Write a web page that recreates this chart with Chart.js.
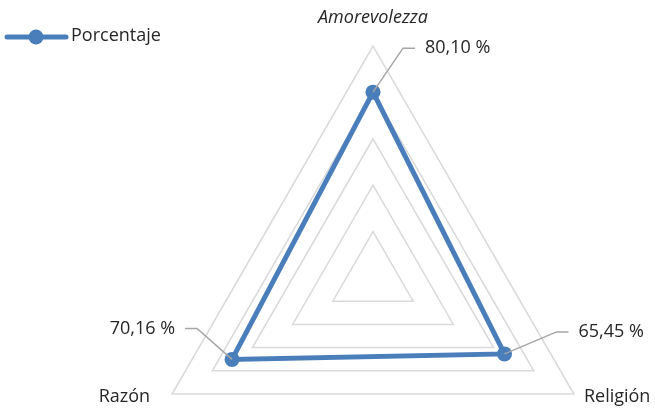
<!DOCTYPE html>
<html>
<head>
<meta charset="utf-8">
<script src="https://cdn.jsdelivr.net/npm/chart.js@4/dist/chart.umd.min.js"></script>
<style>
  html, body { margin: 0; padding: 0; background: #fff; }
  #wrap { width: 655px; height: 409px; overflow: hidden; position: relative; }
  #inner { width: 655px; height: 560px; position: relative; }
</style>
</head>
<body>
<div id="wrap"><div id="inner"><canvas id="chart"></canvas></div></div>
<script>
// Radar chart of three categories, values in percent.
const categories = ["Amorevolezza", "Religión", "Razón"];
const seriesName = "Porcentaje";
const values = [80.10, 65.45, 70.16];
const valueLabels = ["80,10 %", "65,45 %", "70,16 %"];

const blue = "#4a7ebb";
const FONT = "'Open Sans', 'Noto Sans', sans-serif";

// leader line elbow offsets (from the point) for each value label
const leaders = [
  { dx: 30, dy: -44, dir: 1 },
  { dx: 52, dy: -22, dir: 1 },
  { dx: -35, dy: -31, dir: -1 },
];

const labelsPlugin = {
  id: "labels",
  afterDatasetsDraw(chart) {
    const ctx = chart.ctx;
    const scale = chart.scales.r;
    const meta = chart.getDatasetMeta(0);
    ctx.save();

    // value labels with leader lines
    meta.data.forEach((pt, i) => {
      const l = leaders[i];
      const ex = pt.x + l.dx, ey = pt.y + l.dy;
      ctx.strokeStyle = "#a6a6a6";
      ctx.lineWidth = 1.5;
      ctx.beginPath();
      ctx.moveTo(pt.x, pt.y);
      ctx.lineTo(ex, ey);
      ctx.lineTo(ex + 12 * l.dir, ey);
      ctx.stroke();
      ctx.fillStyle = "#262626";
      ctx.font = "18px " + FONT;
      ctx.textBaseline = "middle";
      ctx.textAlign = l.dir > 0 ? "left" : "right";
      ctx.fillText(valueLabels[i], ex + 22 * l.dir, ey);
    });

    // category labels around the outer ring
    const outer = scale.getDistanceFromCenterForValue(scale.max);
    categories.forEach((c, i) => {
      const p = scale.getPointPosition(i, outer);
      ctx.fillStyle = "#262626";
      ctx.textBaseline = "middle";
      if (i === 0) {
        ctx.font = "italic 18px " + FONT;
        ctx.textAlign = "center";
        ctx.fillText(c, p.x, p.y - 28);
      } else if (i === 1) {
        ctx.font = "18px " + FONT;
        ctx.textAlign = "left";
        ctx.fillText(c, p.x + 10, p.y + 3);
      } else {
        ctx.font = "18px " + FONT;
        ctx.textAlign = "right";
        ctx.fillText(c, p.x - 22, p.y + 3);
      }
    });

    // legend, top left
    ctx.strokeStyle = blue;
    ctx.lineWidth = 5;
    ctx.lineCap = "round";
    ctx.beginPath();
    ctx.moveTo(7, 37);
    ctx.lineTo(66, 37);
    ctx.stroke();
    ctx.fillStyle = blue;
    ctx.beginPath();
    ctx.arc(36, 37, 7.5, 0, Math.PI * 2);
    ctx.fill();
    ctx.fillStyle = "#262626";
    ctx.font = "18px " + FONT;
    ctx.textAlign = "left";
    ctx.textBaseline = "middle";
    ctx.fillText(seriesName, 71, 36);
    ctx.restore();
  },
};

new Chart(document.getElementById("chart"), {
  type: "radar",
  data: {
    labels: categories,
    datasets: [{
      label: seriesName,
      data: values,
      borderColor: blue,
      backgroundColor: blue,
      borderWidth: 5,
      pointRadius: 7.5,
      pointHoverRadius: 7.5,
      pointBackgroundColor: blue,
      pointBorderWidth: 0,
      fill: false,
    }],
  },
  options: {
    responsive: true,
    maintainAspectRatio: false,
    animation: false,
    layout: { padding: { top: 46, bottom: 50, left: 141, right: 50 } },
    plugins: { legend: { display: false }, tooltip: { enabled: false } },
    scales: {
      r: {
        min: 0,
        max: 100,
        ticks: { stepSize: 20, display: false },
        grid: { color: "#d9d9d9", lineWidth: 1.5 },
        angleLines: { display: false },
        pointLabels: { display: false },
      },
    },
  },
  plugins: [labelsPlugin],
});
</script>
</body>
</html>
